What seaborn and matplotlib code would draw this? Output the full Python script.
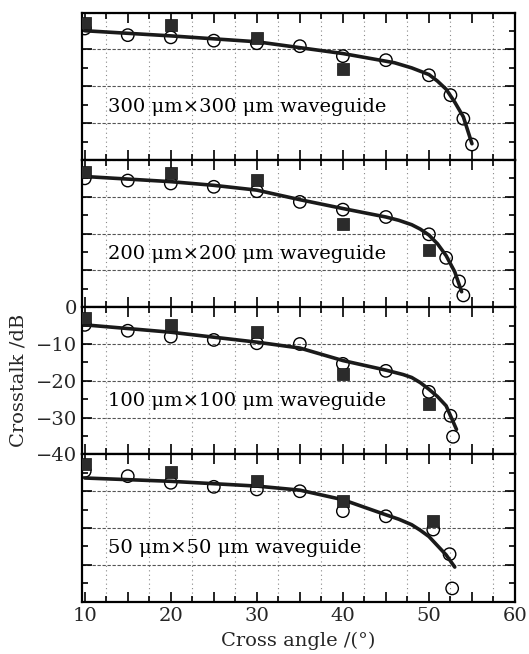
import numpy as np
import matplotlib.pyplot as plt
from matplotlib.ticker import MultipleLocator, FixedLocator, FuncFormatter
import seaborn as sns

sns.set_theme(style='ticks')
plt.rcParams['font.family'] = ['DejaVu Serif']

# panel titles, top to bottom
labels = ['300 μm×300 μm waveguide', '200 μm×200 μm waveguide',
          '100 μm×100 μm waveguide', '50 μm×50 μm waveguide']

# open circles
circ_x = [
    [10, 15, 20, 25, 30, 35, 40, 45, 50, 52.5, 54, 55],
    [10, 15, 20, 25, 30, 35, 40, 45, 50, 52, 53.5, 54],
    [10, 15, 20, 25, 30, 35, 40, 45, 50, 52.5, 52.8],
    [10, 15, 20, 25, 30, 35, 40, 45, 50.5, 52.4, 52.7],
]
circ_y = [
    [-4.3, -6.1, -6.7, -7.6, -8.3, -9.1, -11.8, -12.9, -17.0, -22.4, -28.8, -35.8],
    [-5.0, -5.6, -6.4, -7.3, -8.5, -11.4, -13.5, -15.5, -20.2, -26.6, -33.0, -36.8],
    [-4.8, -6.4, -8.0, -8.9, -9.8, -10.0, -15.4, -17.3, -23.0, -29.5, -35.2],
    [-4.5, -5.9, -7.7, -8.8, -9.5, -10.0, -15.4, -16.8, -20.4, -27.1, -36.4],
]

# filled squares
sq_x = [
    [10, 20, 30, 40],
    [10, 20, 30, 40, 50],
    [10, 20, 30, 40, 50],
    [10, 20, 30, 40, 50.5],
]
sq_y = [
    [-2.7, -3.4, -7.0, -15.2],
    [-3.2, -3.6, -5.5, -17.3, -24.5],
    [-2.9, -4.8, -6.8, -18.2, -26.4],
    [-2.7, -4.8, -7.3, -12.7, -18.2],
]

# fitted curves
fit_x = [
    [10, 20, 30, 40, 46, 48, 50, 51, 52, 53, 54, 55],
    [10, 15, 20, 25, 30, 35, 40, 45, 46.5, 48, 49, 50, 51, 52, 53, 53.8],
    [10, 20, 30, 35, 40, 45, 47, 48, 49, 50, 51, 52, 53.2],
    [10, 20, 30, 35, 40, 45, 46.5, 48, 49, 50, 52, 53],
]
fit_y = [
    [-4.9, -6.3, -7.9, -11.1, -13.6, -15.0, -16.8, -18.6, -20.8, -24.3, -28.3, -35.6],
    [-4.5, -5.2, -5.9, -6.9, -8.2, -10.8, -13.2, -15.5, -16.4, -17.6, -18.8, -20.4, -22.8, -26.0, -30.4, -35.8],
    [-4.8, -6.8, -9.5, -11.1, -14.5, -17.1, -18.3, -19.1, -20.5, -22.3, -24.3, -26.8, -33.2],
    [-6.4, -7.3, -8.6, -9.7, -12.3, -16.4, -17.6, -19.1, -20.6, -22.3, -27.3, -30.6],
]

fig, axes = plt.subplots(4, 1, figsize=(5.29, 6.54), dpi=100, sharex=True)
fig.subplots_adjust(left=0.1545, right=0.9735, top=0.9806, bottom=0.08, hspace=0)

for i, ax in enumerate(axes):
    sns.scatterplot(x=circ_x[i], y=circ_y[i], ax=ax, marker='o', s=80,
                    facecolor='none', edgecolor='black', linewidth=1.0, zorder=3)
    sns.lineplot(x=fit_x[i], y=fit_y[i], ax=ax, color='#1a1a1a', linewidth=2.6,
                 zorder=4, estimator=None)
    sns.scatterplot(x=sq_x[i], y=sq_y[i], ax=ax, marker='s', s=64,
                    color='#2b2b2b', edgecolor='#111111', linewidth=0.5, zorder=5)

    ax.set_xlim(9.65, 60)
    ax.set_ylim(-40, 0)
    ax.xaxis.set_major_locator(MultipleLocator(5))
    ax.xaxis.set_minor_locator(FixedLocator(np.arange(12.5, 60, 5)))
    ax.yaxis.set_major_locator(MultipleLocator(10))
    ax.yaxis.set_minor_locator(FixedLocator([-35, -25, -15, -5]))
    ax.xaxis.set_major_formatter(FuncFormatter(
        lambda v, p: f'{v:.0f}' if abs(v % 10) < 1e-6 else ''))

    ax.tick_params(which='both', direction='in', top=True, right=True,
                   color='black', width=1.2, labelsize=14)
    ax.tick_params(which='major', length=7)
    ax.tick_params(which='minor', length=4)
    if i != 2:
        ax.tick_params(axis='y', labelleft=False)
    if i != 3:
        ax.tick_params(axis='x', labelbottom=False)

    ax.grid(which='major', axis='y', linestyle=(0, (3, 1.5)), color='#555555', linewidth=0.8)
    ax.grid(which='minor', axis='x', linestyle=(0, (1, 3)), color='#888888', linewidth=0.8)
    for sp in ax.spines.values():
        sp.set_linewidth(1.6)
        sp.set_color('black')

    ax.text(12.7, -25.5, labels[i], fontsize=14, va='center', ha='left', color='black')

axes[2].set_ylabel('Crosstalk /dB', fontsize=14)
axes[2].yaxis.set_label_coords(-0.125, 0.5)
axes[3].set_xlabel('Cross angle /(°)', fontsize=14, labelpad=5)

plt.savefig('out.png', dpi=100)
